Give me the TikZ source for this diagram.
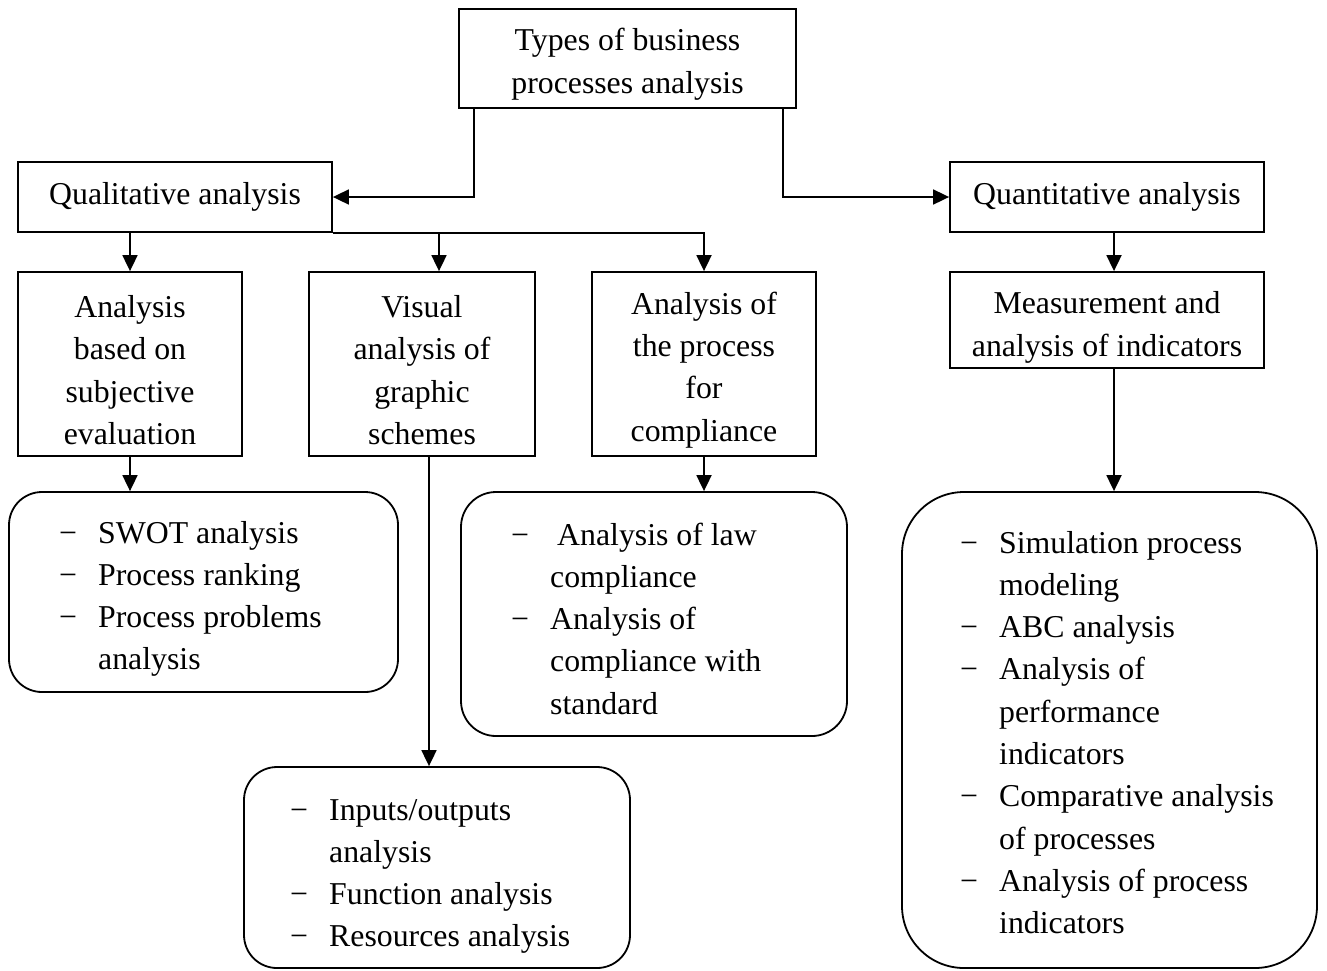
\documentclass[tikz,border=0pt]{standalone}
\usepackage{fontspec}
\setmainfont{Liberation Serif}
\usetikzlibrary{arrows.meta}
\newcommand\bodyfont{\fontsize{31.8}{42.3}\selectfont}
% taller first line so that stacked labels sit a little lower in their boxes
\newcommand\topgap{\rule{0pt}{34pt}}
\begin{document}
\begin{tikzpicture}[x=1pt,y=-1pt,
  every node/.style={font=\bodyfont, inner sep=0pt},
  headbox/.style={draw, line width=1.8pt, align=center},
  listbox/.style={draw, line width=1.8pt, rounded corners=#1},
  listtext/.style={anchor=base west, align=left},
  arr/.style={line width=1.8pt, -{Triangle[length=16pt,width=15pt]}}]
\useasboundingbox (0,0) rectangle (1327,970);

% rectangular category boxes
\node[headbox, minimum width=337pt, minimum height=99pt] (top) at (627.5,58.5) {\topgap Types of business\\processes analysis};
\node[headbox, minimum width=314pt, minimum height=70pt] (qual) at (175,197) {Qualitative analysis};
\node[headbox, minimum width=314pt, minimum height=70pt] (quant) at (1107,197) {Quantitative analysis};
\node[headbox, minimum width=224pt, minimum height=184pt] (subj) at (130,364) {\topgap Analysis\\based on\\subjective\\evaluation};
\node[headbox, minimum width=226pt, minimum height=184pt] (visual) at (422,364) {\topgap Visual\\analysis of\\graphic\\schemes};
\node[headbox, minimum width=224pt, minimum height=184pt] (compl) at (704,364) {\topgap Analysis of\\the process\\for\\compliance};
\node[headbox, minimum width=314pt, minimum height=96pt] (meas) at (1107,320) {\rule{0pt}{37pt}Measurement and\\analysis of indicators};

% rounded boxes holding the method lists
\node[listbox=33pt, minimum width=389pt, minimum height=200pt] (swotbox) at (203.5,592) {};
\node[listbox=35pt, minimum width=386pt, minimum height=244pt] (lawbox) at (654,614) {};
\node[listbox=33pt, minimum width=386pt, minimum height=201pt] (iobox) at (437,867.5) {};
\node[listbox=62pt, minimum width=415pt, minimum height=476pt] (quantbox) at (1109.5,730) {};

\node[listtext] (swotlist) at (59,543) {\begin{tabular}[t]{@{}p{39pt}@{}l@{}}
−&SWOT analysis\\
−&Process ranking\\
−&Process problems\\
&analysis\end{tabular}};

\node[listtext] (lawlist) at (511,545) {\begin{tabular}[t]{@{}p{39pt}@{}l@{}}
−&\hspace{7pt}Analysis of law\\
&compliance\\
−&Analysis of\\
&compliance with\\
&standard\end{tabular}};

\node[listtext] (iolist) at (290,820) {\begin{tabular}[t]{@{}p{39pt}@{}l@{}}
−&Inputs/outputs\\
&analysis\\
−&Function analysis\\
−&Resources analysis\end{tabular}};

\node[listtext] (quantlist) at (960,553) {\begin{tabular}[t]{@{}p{39pt}@{}l@{}}
−&Simulation process\\
&modeling\\
−&ABC analysis\\
−&Analysis of\\
&performance\\
&indicators\\
−&Comparative analysis\\
&of processes\\
−&Analysis of process\\
&indicators\end{tabular}};

% connectors
\draw[arr] ([xshift=-153.5pt]top.south) |- (qual.east);
\draw[arr] ([xshift=155.5pt]top.south) |- (quant.west);
\draw[arr] (subj.north |- qual.south) -- (subj.north);
\draw[arr] (qual.south east) -| (compl.north);
\coordinate (vdrop) at ([xshift=17pt]visual.north);
\draw[arr] (vdrop |- qual.south) -- (vdrop);
\draw[arr] (subj.south) -- (subj.south |- swotbox.north);
\coordinate (vout) at ([xshift=7pt]visual.south);
\draw[arr] (vout) -- (vout |- iobox.north);
\draw[arr] (compl.south) -- (compl.south |- lawbox.north);
\coordinate (qout) at ([xshift=7pt]quant.south);
\draw[arr] (qout) -- (qout |- meas.north);
\coordinate (mout) at ([xshift=7pt]meas.south);
\draw[arr] (mout) -- (mout |- quantbox.north);
\end{tikzpicture}
\end{document}
